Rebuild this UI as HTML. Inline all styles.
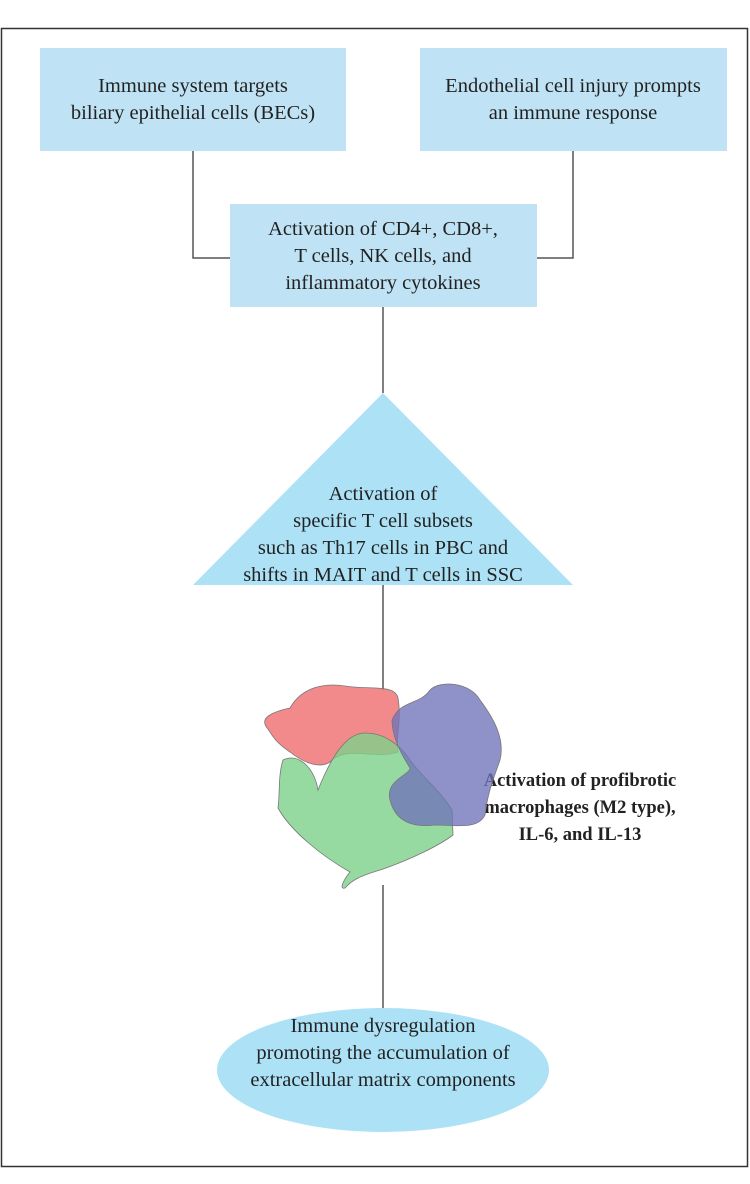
<!DOCTYPE html>
<html><head><meta charset="utf-8"><style>
body{margin:0;background:#fff;}
svg text{font-family:"Liberation Serif",serif;fill:#222;}
</style></head><body>
<svg width="750" height="1179" viewBox="0 0 750 1179" xmlns="http://www.w3.org/2000/svg">
<rect x="1.5" y="28.5" width="746" height="1138" fill="#fff" stroke="#333" stroke-width="1.5"/>
<g stroke="#555" stroke-width="1.5" fill="none">
<path d="M193 151 V258 H230"/>
<path d="M573 151 V258 H537"/>
<path d="M383 307 V393"/>
<path d="M383 585 V690"/>
<path d="M383 885 V1008"/>
</g>
<rect x="40" y="48" width="306" height="103" fill="#bfe3f4"/>
<rect x="420" y="48" width="307" height="103" fill="#bfe3f4"/>
<rect x="230" y="204" width="307" height="103" fill="#bfe3f4"/>
<polygon points="383,393 573,585 193,585" fill="#ace1f6"/>
<ellipse cx="383" cy="1070" rx="166" ry="62" fill="#ace1f6"/>
<g font-size="20.5" text-anchor="middle">
<text x="193" y="92">Immune system targets</text>
<text x="193" y="119">biliary epithelial cells (BECs)</text>
<text x="573" y="92">Endothelial cell injury prompts</text>
<text x="573" y="119">an immune response</text>
<text x="383" y="235">Activation of CD4+, CD8+,</text>
<text x="383" y="262">T cells, NK cells, and</text>
<text x="383" y="289">inflammatory cytokines</text>
<text x="383" y="500">Activation of</text>
<text x="383" y="527">specific T cell subsets</text>
<text x="383" y="554">such as Th17 cells in PBC and</text>
<text x="383" y="581">shifts in MAIT and T cells in SSC</text>
<text x="383" y="1032">Immune dysregulation</text>
<text x="383" y="1059">promoting the accumulation of</text>
<text x="383" y="1086">extracellular matrix components</text>
</g>
<g font-size="18.5" text-anchor="middle" font-weight="bold">
<text x="580" y="786">Activation of profibrotic</text>
<text x="580" y="813">macrophages (M2 type),</text>
<text x="580" y="840">IL-6, and IL-13</text>
</g>
<g stroke="#777" stroke-width="0.8">
<path d="M268 729 C258 718 272 712 290 708 C300 690 320 682 345 686 C370 690 395 684 398 698 C402 720 395 740 398 752 C375 760 345 745 330 762 C318 770 300 760 290 752 C275 742 272 735 268 729Z" fill="#f07a7c" fill-opacity="0.88"/>
<path d="M283 760 C300 752 315 770 318 790 C330 760 345 733 365 733 C385 733 400 745 410 760 C420 775 440 790 452 810 L453 835 C440 845 410 860 380 870 C360 876 352 880 345 888 C338 890 345 878 350 872 C320 855 290 830 278 808 C280 795 278 775 283 760Z" fill="#7dd18a" fill-opacity="0.8"/>
<path d="M392 720 C400 700 420 705 430 690 C440 680 470 682 480 700 C495 720 505 740 500 760 C495 775 488 790 485 815 C478 830 455 825 435 825 C410 828 395 820 390 800 C385 780 410 775 410 768 C405 760 392 740 392 720Z" fill="#6f73b8" fill-opacity="0.78"/>
</g>
</svg>
</body></html>
